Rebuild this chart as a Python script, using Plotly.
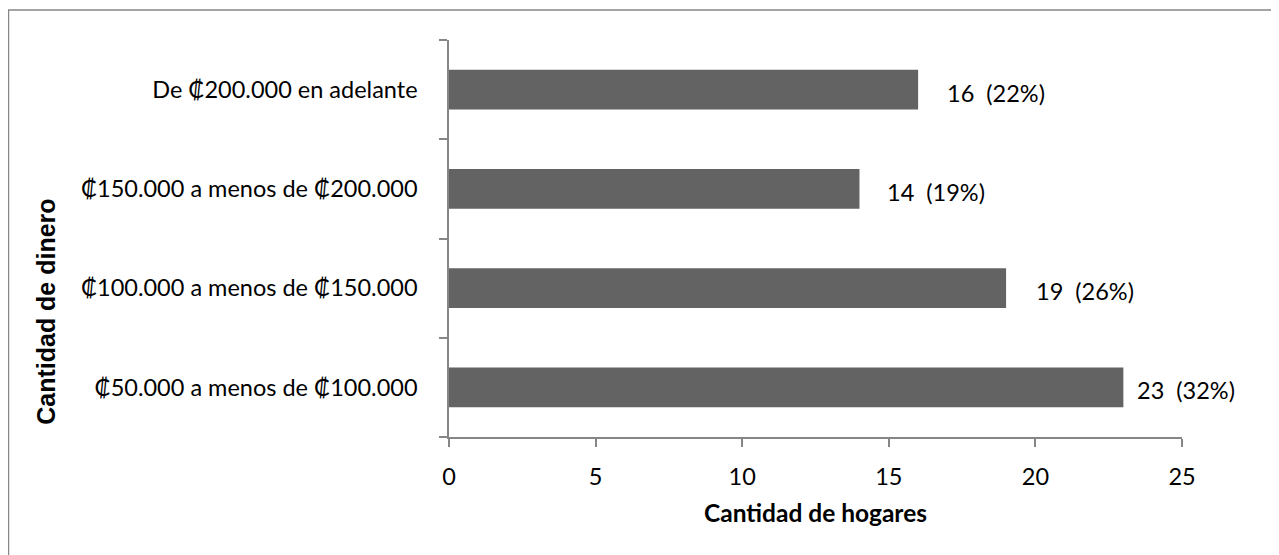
import plotly.graph_objects as go

# Datos
categorias = [
    "₡50.000 a menos de ₡100.000",
    "₡100.000 a menos de ₡150.000",
    "₡150.000 a menos de ₡200.000",
    "De ₡200.000 en adelante",
]
hogares = [23, 19, 14, 16]
porcentajes = [32, 26, 19, 22]
ticks_x = [0, 5, 10, 15, 20, 25]

# desplazamiento de etiquetas (estilo, en px)
desplazamientos = [12, 28, 26, 27]

gris_barra = "#636363"
gris_eje = "#868686"
fuente = "Lato, 'Open Sans', sans-serif"

fig = go.Figure()

fig.add_trace(go.Bar(
    x=hogares,
    y=categorias,
    orientation="h",
    marker=dict(color=gris_barra, line=dict(width=0)),
    width=0.4,
    hoverinfo="x+y",
))

# Etiquetas de valor
for cat, n, p, dx in zip(categorias, hogares, porcentajes, desplazamientos):
    fig.add_annotation(
        x=n, y=cat,
        text=f"{n}\u00a0\u00a0({p}%)",
        showarrow=False,
        xanchor="left",
        xshift=dx,
        yshift=-3,
        font=dict(family=fuente, size=23.5, color="black"),
    )

# Titulo del eje Y (desplazado como en el original)
fig.add_annotation(
    xref="paper", yref="paper",
    x=-0.55, y=0.315,
    text="<b>Cantidad de dinero</b>",
    textangle=-90,
    showarrow=False,
    xanchor="center", yanchor="middle",
    font=dict(family="'Liberation Sans', Arial, sans-serif", size=25, color="black"),
)

# Marco exterior
fig.add_shape(
    type="rect", xref="paper", yref="paper",
    x0=-0.601, x1=1.3, y0=-0.5, y1=1.0756,
    line=dict(color=gris_eje, width=1.5),
    fillcolor="rgba(0,0,0,0)",
    layer="below",
)

fig.update_layout(
    width=1271, height=547,
    margin=dict(l=441, r=97, t=32, b=118),
    paper_bgcolor="white",
    plot_bgcolor="white",
    showlegend=False,
    font=dict(family=fuente, size=23.5, color="black"),
    xaxis=dict(
        range=[0, 25],
        tickvals=ticks_x,
        showgrid=False,
        zeroline=False,
        showline=True,
        linecolor=gris_eje,
        linewidth=1.5,
        ticks="outside",
        ticklen=8,
        tickcolor=gris_eje,
        tickwidth=1.5,
        ticklabelstandoff=10,
        tickfont=dict(family=fuente, size=23.5),
        title=dict(text="<b>Cantidad de hogares</b>",
                   font=dict(family=fuente, size=24.5), standoff=16),
    ),
    yaxis=dict(
        showgrid=False,
        zeroline=False,
        showline=True,
        linecolor=gris_eje,
        linewidth=1.5,
        ticks="outside",
        tickson="boundaries",
        ticklen=8,
        tickcolor=gris_eje,
        tickwidth=1.5,
        ticklabelstandoff=25,
        tickfont=dict(family=fuente, size=23.5),
    ),
)

fig.write_html("out.html")
